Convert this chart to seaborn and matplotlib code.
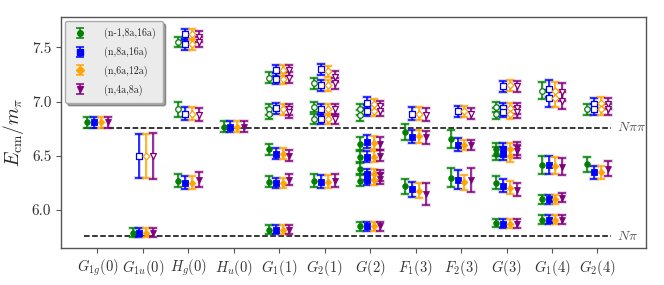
import numpy as np
import pandas as pd
import matplotlib
matplotlib.use("Agg")
import matplotlib.pyplot as plt
import seaborn as sns

# ================= DATOS =================
categorias = [r'$G_{1g}(0)$', r'$G_{1u}(0)$', r'$H_g(0)$', r'$H_u(0)$',
              r'$G_1(1)$', r'$G_2(1)$', r'$G(2)$', r'$F_1(3)$',
              r'$F_2(3)$', r'$G(3)$', r'$G_1(4)$', r'$G_2(4)$']

series = ['(n-1,8a,16a)', '(n,8a,16a)', '(n,6a,12a)', '(n,4a,8a)']

nan = np.nan

# un nivel por fila: indice de categoria, abierto (1) / lleno (0)
nivel_cat = [0, 1, 1, 2, 2, 2, 2, 3, 4, 4, 4, 4, 4, 4, 4, 5, 5, 5, 5, 5,
             6, 6, 6, 6, 6, 6, 6, 7, 7, 7, 8, 8, 8, 9, 9, 9, 9, 9, 9, 9,
             10, 10, 10, 10, 10, 11, 11, 11]
nivel_abierto = [0, 0, 1, 0, 1, 1, 1, 0, 0, 0, 0, 1, 1, 1, 1, 0, 1, 1, 1, 1,
                 0, 0, 0, 0, 0, 1, 1, 0, 0, 1, 0, 0, 1, 0, 0, 0, 0, 1, 1, 1,
                 0, 0, 0, 1, 1, 0, 1, 1]

y_green = [6.81, 5.79, nan, 6.27, 6.93, 7.55, nan, 6.77, 5.82, 6.26, 6.56, 6.93, 6.89, 7.22, nan,
           6.27, 6.95, 6.84, 7.17, nan, 5.85, 6.61, 6.49, 6.38, 6.27, 6.93, 6.875,
           6.72, 6.22, nan, 6.655, 6.30, nan, 5.88, 6.25, 6.56, 6.52, nan, 6.95, 6.89,
           5.91, 6.10, 6.415, 7.10, nan, 6.42, 6.93, nan]
y_blue = [6.81, 5.79, 6.50, 6.25, 6.89, 7.62, 7.53, 6.77, 5.82, 6.25, 6.52, 6.94, nan, 7.29, 7.21,
          6.26, 6.93, 6.84, 7.30, 7.15, 5.85, 6.63, 6.49, 6.33, 6.28, 6.99, 6.915,
          6.675, 6.19, 6.89, 6.60, 6.28, 6.91, 5.875, 6.225, 6.56, 6.52, 7.14, 6.94, 6.905,
          5.91, 6.10, 6.415, 7.12, 7.03, 6.35, 6.98, 6.93]
y_orange = [6.81, 5.79, 6.50, 6.25, 6.89, 7.62, 7.53, 6.77, 5.82, 6.25, 6.52, 6.93, nan, 7.29, 7.21,
            6.26, 6.93, 6.84, 7.28, 7.15, 5.85, 6.62, 6.49, 6.33, 6.28, 6.975, 6.915,
            6.68, 6.18, 6.89, 6.60, 6.255, 6.91, 5.875, 6.205, 6.56, 6.50, 7.15, 6.94, 6.89,
            5.91, 6.10, 6.41, 7.10, 7.03, 6.35, 6.99, 6.93]
y_purple = [6.81, 5.79, 6.50, 6.28, 6.88, 7.60, 7.55, 6.77, 5.82, 6.28, 6.50, 6.93, 6.90, 7.29, 7.22,
            6.27, 6.93, 6.84, 7.23, 7.17, 5.85, 6.61, 6.50, 6.32, 6.29, 6.96, 6.915,
            6.67, 6.15, 6.88, 6.60, 6.28, 6.89, 5.875, 6.185, 6.57, 6.54, 7.14, 6.94, 6.90,
            5.91, 6.115, 6.40, 7.09, 7.01, 6.38, 6.98, 6.93]

e_green = [.05, .04, nan, .06, .07, .05, nan, .05, .04, .05, .05, .05, .05, .05, nan,
           .06, .05, .05, .05, nan, .04, .06, .05, .05, .05, .05, .05,
           .07, .07, nan, .08, .085, nan, .04, .06, .06, .06, nan, .05, .05,
           .04, .04, .08, .08, nan, .07, .05, nan]
e_blue = [.05, .04, .20, .06, .06, .05, .05, .05, .04, .05, .05, .05, nan, .05, .05,
          .06, .05, .05, .05, .05, .04, .06, .05, .05, .05, .05, .05,
          .06, .07, .06, .06, .085, .05, .04, .06, .06, .06, .05, .05, .05,
          .04, .04, .08, .08, .08, .06, .05, .05]
e_orange = [.05, .04, .20, .06, .06, .05, .05, .05, .04, .05, .05, .05, nan, .05, .05,
            .06, .05, .05, .05, .05, .04, .06, .05, .05, .05, .05, .05,
            .06, .07, .06, .05, .07, .05, .04, .06, .06, .06, .05, .05, .05,
            .04, .04, .08, .08, .08, .06, .05, .05]
e_purple = [.05, .04, .21, .07, .06, .05, .05, .05, .04, .05, .05, .05, .05, .05, .05,
            .06, .05, .05, .05, .05, .04, .06, .05, .05, .05, .05, .05,
            .06, .10, .06, .05, .11, .05, .04, .06, .06, .06, .05, .05, .05,
            .04, .04, .08, .08, .08, .07, .05, .05]

umbral_npi = 5.76
umbral_npipi = 6.76

# ================= ESTILO =================
colores = ['green', 'blue', 'orange', 'purple']
marcadores = ['o', 's', 'D', 'v']
tamanos = [16, 16, 12, 18]
desplaz = [-0.225, -0.075, 0.075, 0.225]

sns.set_style("ticks")
plt.rcParams['font.family'] = ['cmr10', 'DejaVu Serif']
plt.rcParams['mathtext.fontset'] = 'cm'
plt.rcParams['axes.formatter.use_mathtext'] = True

fig, ax = plt.subplots(figsize=(6.64, 2.85), dpi=100)
fig.subplots_adjust(left=0.092, right=0.973, top=0.94, bottom=0.13)

valores = [y_green, y_blue, y_orange, y_purple]
errores = [e_green, e_blue, e_orange, e_purple]

filas = []
for s, nombre in enumerate(series):
    for i, c in enumerate(nivel_cat):
        filas.append({'serie': nombre, 'x': c + desplaz[s], 'y': valores[s][i],
                      'err': errores[s][i], 'abierto': nivel_abierto[i]})
df = pd.DataFrame(filas).dropna()

for s, nombre in enumerate(series):
    d = df[df['serie'] == nombre]
    col = colores[s]
    # halo claro detras de la barra
    ax.errorbar(d['x'], d['y'], yerr=d['err'], fmt='none', ecolor=col, alpha=0.18,
                elinewidth=2.2, capsize=3.6, capthick=2.6, zorder=2)
    ax.errorbar(d['x'], d['y'], yerr=d['err'], fmt='none', ecolor=col,
                elinewidth=1.1, capsize=3, capthick=1.1, zorder=3)
    llenos = d[d['abierto'] == 0]
    abiertos = d[d['abierto'] == 1]
    sns.scatterplot(data=llenos, x='x', y='y', marker=marcadores[s], color=col,
                    s=tamanos[s], edgecolor=col, linewidth=0.6, ax=ax, zorder=4,
                    legend=False)
    sns.scatterplot(data=abiertos, x='x', y='y', marker=marcadores[s], facecolor='white',
                    edgecolor=col, s=tamanos[s], linewidth=0.9, ax=ax, zorder=4,
                    legend=False)
    # manejador para la leyenda
    ax.errorbar([nan], [nan], yerr=[nan], fmt=marcadores[s], color=col, ms=4,
                elinewidth=1.1, capsize=3, capthick=1.1, label=nombre)

ax.hlines([umbral_npipi, umbral_npi], -0.3, 11.3, colors='black',
          linestyles='--', linewidth=1.1, zorder=1)
ax.text(11.42, umbral_npipi, r'$N\pi\pi$', color='#555555', fontsize=10, va='center')
ax.text(11.42, umbral_npi, r'$N\pi$', color='#555555', fontsize=10, va='center')

ax.set_xlim(-0.8, 12.07)
ax.set_ylim(5.65, 7.78)
ax.set_xticks(range(len(categorias)))
ax.set_xticklabels(categorias, fontsize=10.5, color='#333333')
ax.set_yticks([6.0, 6.5, 7.0, 7.5])
ax.set_yticklabels(['6.0', '6.5', '7.0', '7.5'], fontsize=11, color='#333333')
ax.set_xlabel('')
ax.set_ylabel(r'$E_{\rm cm}/m_\pi$', fontsize=14)
ax.tick_params(direction='out', length=3.5, width=0.8, color='#555555')
for sp in ax.spines.values():
    sp.set_visible(True)
    sp.set_color('#555555')
    sp.set_linewidth(1.0)

leg = ax.legend(loc='upper left', fontsize=7.2, frameon=True, shadow=True,
                facecolor='#ebebeb', edgecolor='#aaaaaa', framealpha=1,
                borderpad=0.7, labelspacing=0.75, handlelength=1.6,
                handletextpad=1.6, borderaxespad=0.4)

fig.savefig('out.png', dpi=100)
